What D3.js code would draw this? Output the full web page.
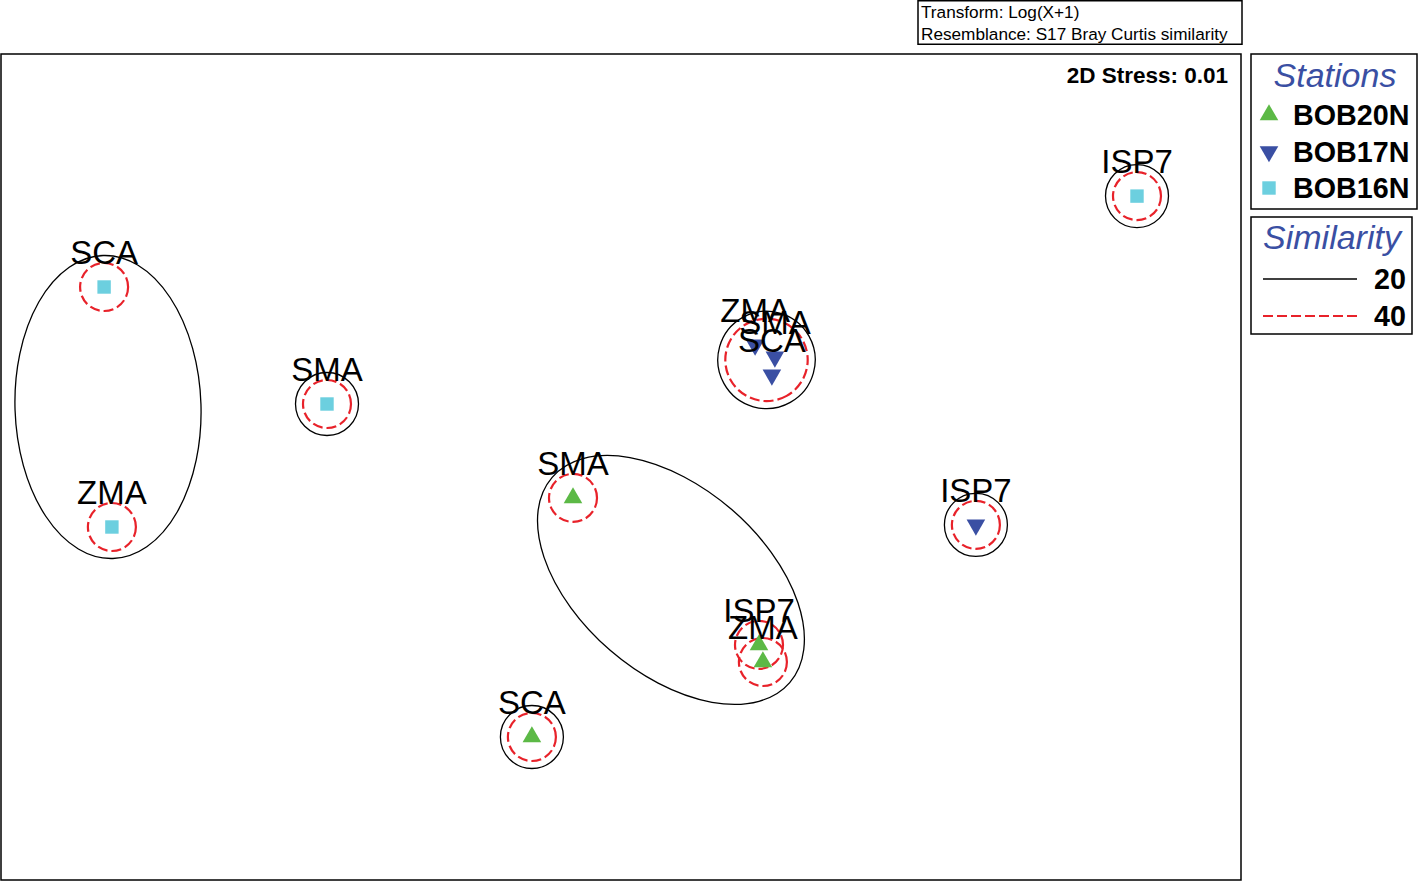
<!DOCTYPE html>
<html>
<head>
<meta charset="utf-8">
<script src="https://cdn.jsdelivr.net/npm/d3@7"></script>
<style>
  body { margin: 0; background: #fff; }
  svg { display: block; font-family: "Liberation Sans", Arial, sans-serif; }
</style>
</head>
<body>
<svg id="mds"></svg>
<script>
// nMDS ordination, coordinates
const stations = ["BOB20N", "BOB17N", "BOB16N"]
const sites = ["SMA", "ISP7", "ZMA", "SCA"]

const bob20nX = [-0.160, 0.460, 0.473, -0.297]
const bob20nY = [-0.103, -0.593, -0.650, -0.900]
const bob17nX = [0.513, 1.183, 0.447, 0.503]
const bob17nY = [0.367, -0.193, 0.407, 0.307]
const bob16nX = [-0.980, 1.720, -1.697, -1.723]
const bob16nY = [0.210, 0.903, -0.200, 0.600]

// cluster groups (station:site) at each similarity level
const similarityLevels = [20, 40]
const groups20 = [
  ["BOB16N:SCA", "BOB16N:ZMA"], ["BOB16N:SMA"], ["BOB16N:ISP7"],
  ["BOB17N:ZMA", "BOB17N:SMA", "BOB17N:SCA"], ["BOB17N:ISP7"],
  ["BOB20N:SMA", "BOB20N:ISP7", "BOB20N:ZMA"], ["BOB20N:SCA"]
]
const groups40 = [
  ["BOB16N:SCA"], ["BOB16N:ZMA"], ["BOB16N:SMA"], ["BOB16N:ISP7"],
  ["BOB17N:ZMA", "BOB17N:SMA", "BOB17N:SCA"], ["BOB17N:ISP7"],
  ["BOB20N:SMA"], ["BOB20N:ISP7"], ["BOB20N:ZMA"], ["BOB20N:SCA"]
]
const stressText = "2D Stress: 0.01"
const infoLines = ["Transform: Log(X+1)", "Resemblance: S17 Bray Curtis similarity"]

const colors = { BOB20N: "#5cb946", BOB17N: "#3a4fa3", BOB16N: "#6ccfdf" }
const red = "#e8222a"
const dash = "10,4"

const width = 1419
const height = 881
const svg = d3.select("#mds").attr("width", width).attr("height", height)

// plot frame
const frame = {left: 1, top: 54, right: 1241, bottom: 880}
svg.append("rect")
  .attr("x", frame.left).attr("y", frame.top)
  .attr("width", frame.right - frame.left).attr("height", frame.bottom - frame.top)
  .attr("fill", "none").attr("stroke", "#000").attr("stroke-width", 1.5)

const x = d3.scaleLinear().domain([-2, 2]).range([21, 1221])
const y = d3.scaleLinear().domain([-1.35, 1.35]).range([872, 62])

// build point table
const seriesX = {BOB20N: bob20nX, BOB17N: bob17nX, BOB16N: bob16nX}
const seriesY = {BOB20N: bob20nY, BOB17N: bob17nY, BOB16N: bob16nY}
const points = []
stations.forEach(st => {
  sites.forEach((s, i) => {
    points.push({station: st, site: s, key: st + ":" + s, px: x(seriesX[st][i]), py: y(seriesY[st][i])})
  })
})
const byKey = new Map(points.map(p => [p.key, p]))

// contour shape for a group: circle for one point, ellipse along the farthest pair otherwise
function contour(members, pad, maxMinor) {
  const pts = members.map(k => byKey.get(k))
  if (pts.length == 1) return {cx: pts[0].px, cy: pts[0].py, rx: pad, ry: pad, angle: 0}
  let best = [pts[0], pts[1]], bestD = -1
  pts.forEach(a => pts.forEach(b => {
    const d = Math.hypot(a.px - b.px, a.py - b.py)
    if (d > bestD) { bestD = d; best = [a, b] }
  }))
  const rx = bestD / 2 + pad
  return {
    cx: (best[0].px + best[1].px) / 2 + (pts.length > 2 ? 3 : 0),
    cy: (best[0].py + best[1].py) / 2,
    rx: rx, ry: Math.min(maxMinor, rx),
    angle: Math.atan2(best[1].py - best[0].py, best[1].px - best[0].px) * 180 / Math.PI
  }
}

const drawContours = (groups, pad, maxMinor, stroke, dashes) => {
  svg.append("g").selectAll("ellipse")
    .data(groups.map(g => contour(g, pad, maxMinor)))
    .enter().append("ellipse")
    .attr("transform", d => `translate(${d.cx},${d.cy}) rotate(${d.angle})`)
    .attr("rx", d => d.rx).attr("ry", d => d.ry)
    .attr("fill", "none")
    .attr("stroke", stroke)
    .attr("stroke-width", dashes ? 2.2 : 1.3)
    .attr("stroke-dasharray", dashes)
}
drawContours(groups20, 31.5, 93, "#000", null)
drawContours(groups40, 24, 93, red, dash)

// markers
const symbolFor = {
  BOB20N: d3.symbol().type(d3.symbolTriangle).size(150)(),
  BOB17N: d3.symbol().type(d3.symbolTriangle).size(150)(),
  BOB16N: d3.symbol().type(d3.symbolSquare).size(180)()
}
const rot = st => st == "BOB17N" ? " rotate(180)" : ""

svg.append("g").selectAll("path")
  .data(points)
  .enter().append("path")
  .attr("d", d => symbolFor[d.station])
  .attr("transform", d => `translate(${d.px},${d.py})` + rot(d.station))
  .attr("fill", d => colors[d.station])

// site labels
svg.append("g").selectAll("text")
  .data(points)
  .enter().append("text")
  .attr("x", d => d.px)
  .attr("y", d => d.py - 23)
  .attr("text-anchor", "middle")
  .attr("font-size", 33)
  .text(d => d.site)

// stress
svg.append("text")
  .attr("x", 1228).attr("y", 83)
  .attr("text-anchor", "end")
  .attr("font-size", 22.5).attr("font-weight", "bold")
  .text(stressText)

// transform / resemblance box
svg.append("rect")
  .attr("x", 918).attr("y", 0.75).attr("width", 324).attr("height", 43.5)
  .attr("fill", "none").attr("stroke", "#000").attr("stroke-width", 1.5)
svg.append("g").selectAll("text")
  .data(infoLines)
  .enter().append("text")
  .attr("x", 921)
  .attr("y", (d, i) => 18 + i * 22)
  .attr("font-size", 17.2)
  .text(d => d)

// stations legend
const legend = svg.append("g")
legend.append("rect")
  .attr("x", 1251).attr("y", 54).attr("width", 166).attr("height", 155)
  .attr("fill", "none").attr("stroke", "#000").attr("stroke-width", 1.5)
legend.append("text")
  .attr("x", 1335).attr("y", 87)
  .attr("text-anchor", "middle")
  .attr("font-size", 34).attr("font-style", "italic")
  .attr("fill", "#3a4fa3")
  .text("Stations")
const rows = legend.selectAll(".row")
  .data(stations)
  .enter().append("g")
  .attr("transform", (d, i) => `translate(0,${115 + i * 36.5})`)
rows.append("path")
  .attr("d", d => symbolFor[d])
  .attr("transform", d => "translate(1269,0)" + rot(d))
  .attr("fill", d => colors[d])
rows.append("text")
  .attr("x", 1293).attr("y", 10)
  .attr("font-size", 28.7).attr("font-weight", "bold")
  .text(d => d)

// similarity legend
const simLegend = svg.append("g")
simLegend.append("rect")
  .attr("x", 1251).attr("y", 217).attr("width", 161).attr("height", 117)
  .attr("fill", "none").attr("stroke", "#000").attr("stroke-width", 1.5)
simLegend.append("text")
  .attr("x", 1332).attr("y", 249)
  .attr("text-anchor", "middle")
  .attr("font-size", 34).attr("font-style", "italic")
  .attr("fill", "#3a4fa3")
  .text("Similarity")
const simRows = simLegend.selectAll(".srow")
  .data(similarityLevels)
  .enter().append("g")
  .attr("transform", (d, i) => `translate(0,${279 + i * 37})`)
simRows.append("line")
  .attr("x1", 1263).attr("x2", 1357)
  .attr("stroke", (d, i) => i == 0 ? "#000" : red)
  .attr("stroke-width", (d, i) => i == 0 ? 1.3 : 2.2)
  .attr("stroke-dasharray", (d, i) => i == 0 ? null : dash)
simRows.append("text")
  .attr("x", 1406).attr("y", 10)
  .attr("text-anchor", "end")
  .attr("font-size", 28.7).attr("font-weight", "bold")
  .text(d => d)
</script>
</body>
</html>
